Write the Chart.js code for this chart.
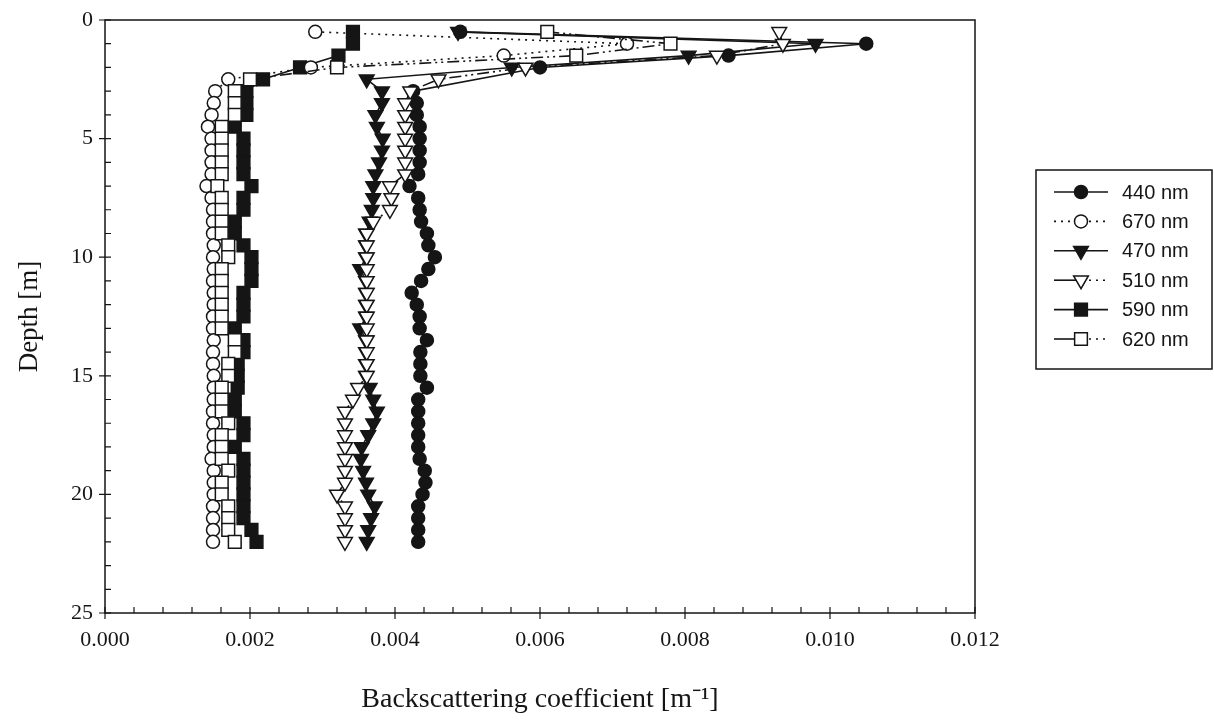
<!DOCTYPE html>
<html><head><meta charset="utf-8">
<style>html,body{margin:0;padding:0;background:#fff;} #wrap{width:1214px;height:726px;position:relative;}</style>
<script src="https://cdn.jsdelivr.net/npm/chart.js@4.4.0/dist/chart.umd.min.js"></script>
</head><body><div id="wrap"><canvas id="c" width="1214" height="726"></canvas></div>
<script>
const depths = [0.5,1,1.5,2,2.5,3,3.5,4,4.5,5,5.5,6,6.5,7,7.5,8,8.5,9,9.5,10,10.5,11,11.5,12,12.5,13,13.5,14,14.5,15,15.5,16,16.5,17,17.5,18,18.5,19,19.5,20,20.5,21,21.5,22];
const labels = ['440 nm','670 nm','470 nm','510 nm','590 nm','620 nm'];
const bb440 = [0.0049,0.0105,0.0086,0.0060,null,0.00425,0.0043,0.0043,0.00434,0.00434,0.00434,0.00434,0.00432,0.0042,0.00432,0.00434,0.00436,0.00444,0.00446,0.00455,0.00446,0.00436,0.00423,0.0043,0.00434,0.00434,0.00444,0.00435,0.00435,0.00435,0.00444,0.00432,0.00432,0.00432,0.00432,0.00432,0.00434,0.00441,0.00442,0.00438,0.00432,0.00432,0.00432,0.00432];
const bb670 = [0.0029,0.0072,0.0055,0.00284,0.0017,0.00152,0.0015,0.00147,0.00142,0.00147,0.00147,0.00147,0.00147,0.0014,0.00147,0.00149,0.00149,0.00149,0.0015,0.00149,0.0015,0.00149,0.0015,0.0015,0.00149,0.00149,0.0015,0.00149,0.00149,0.0015,0.0015,0.0015,0.00149,0.00149,0.0015,0.0015,0.00147,0.0015,0.0015,0.0015,0.00149,0.00149,0.00149,0.00149];
const bb470 = [0.00487,0.0098,0.00805,0.00561,0.00361,0.00382,0.00382,0.00373,0.00375,0.00383,0.00382,0.00378,0.00373,0.0037,0.0037,0.00368,0.00365,0.0036,0.0036,0.0036,0.00352,0.0036,0.0036,0.0036,0.0036,0.00352,0.0036,0.0036,0.0036,0.0036,0.00365,0.0037,0.00375,0.0037,0.00363,0.00354,0.00353,0.00356,0.0036,0.00363,0.00372,0.00367,0.00363,0.00361];
const bb510 = [0.0093,0.00935,0.00844,0.0058,0.0046,0.00421,0.00414,0.00414,0.00414,0.00414,0.00414,0.00414,0.00414,0.00393,0.00395,0.00393,0.0037,0.00361,0.00361,0.00361,0.00361,0.00361,0.00361,0.00361,0.00361,0.00361,0.00361,0.00361,0.00361,0.00361,0.00349,0.00342,0.00331,0.00331,0.00331,0.00331,0.00331,0.00331,0.00331,0.0032,0.00331,0.00331,0.00331,0.00331];
const bb590 = [0.00342,0.00342,0.00322,0.00269,0.00218,0.00195,0.00195,0.00195,0.00179,0.00191,0.00191,0.00191,0.00191,0.00202,0.00191,0.00191,0.00179,0.00179,0.00191,0.00202,0.00202,0.00202,0.00191,0.00191,0.00191,0.00179,0.00191,0.00191,0.00183,0.00183,0.00183,0.00179,0.00179,0.00191,0.00191,0.00179,0.00191,0.00191,0.00191,0.00191,0.00191,0.00191,0.00202,0.00209];
const bb620 = [0.0061,0.0078,0.0065,0.0032,0.0020,0.00179,0.00179,0.00179,0.00161,0.00161,0.00161,0.00161,0.00161,0.00155,0.00161,0.00161,0.00161,0.00161,0.0017,0.0017,0.00161,0.00161,0.00161,0.00161,0.00161,0.00161,0.00179,0.00179,0.0017,0.0017,0.00161,0.00161,0.00161,0.0017,0.00161,0.00161,0.00161,0.0017,0.00161,0.00161,0.0017,0.0017,0.0017,0.00179];
const xTickValues = [0.000,0.002,0.004,0.006,0.008,0.010,0.012];
const yTickValues = [0,5,10,15,20,25];

const INK = '#151515';
function pts(vals){ const out=[]; depths.forEach((d,i)=>{ if(vals[i]!==null) out.push({x:vals[i], y:d}); }); return out; }

const styles = [
  {data:bb440, shape:'circle', filled:true, r:6.5, dash:[], legendDash:'solid', order:5},
  {data:bb670, shape:'circle', filled:false, r:6.5, dash:[2,5], legendDash:'dot', order:3},
  {data:bb470, shape:'triangle', filled:true, r:8.5, dash:[], legendDash:'solid', order:4},
  {data:bb510, shape:'triangle', filled:false, r:8.5, dash:[12,4,2,4,2,4], legendDash:'mixed', order:1},
  {data:bb590, shape:'rect', filled:true, r:9, dash:[], legendDash:'solid', order:6},
  {data:bb620, shape:'rect', filled:false, r:9, dash:[12,4,2,4,2,4], legendDash:'mixed', order:2}
];

const datasets = styles.map((s,i)=>({
  label: labels[i],
  data: pts(s.data),
  showLine: true,
  borderColor: INK,
  borderWidth: 1.6,
  borderDash: s.dash,
  pointStyle: s.shape,
  pointRotation: s.shape==='triangle'?180:0,
  pointRadius: s.r,
  pointBorderWidth: 1.5,
  pointBorderColor: INK,
  pointBackgroundColor: s.filled?INK:'#ffffff',
  order: s.order
}));

function marker(ctx, s, x, y){
  ctx.save();
  ctx.lineWidth = 1.5; ctx.strokeStyle = INK; ctx.fillStyle = s.filled?INK:'#fff';
  ctx.setLineDash([]);
  ctx.beginPath();
  if (s.shape==='circle'){ ctx.arc(x,y,s.r,0,Math.PI*2); }
  else if (s.shape==='rect'){ const h=s.r*Math.SQRT1_2; ctx.rect(x-h,y-h,2*h,2*h); }
  else { const r=s.r; ctx.moveTo(x, y+r); ctx.lineTo(x - r*Math.sin(Math.PI/3), y - r/2); ctx.lineTo(x + r*Math.sin(Math.PI/3), y - r/2); ctx.closePath(); }
  ctx.fill(); ctx.stroke(); ctx.restore();
}

const framePlugin = {
  id:'frame',
  beforeDatasetsDraw(chart){
    const {ctx, chartArea:a, scales:{x, y}} = chart;
    ctx.save();
    ctx.strokeStyle = INK; ctx.lineWidth = 1.5; ctx.setLineDash([]);
    ctx.strokeRect(a.left, a.top, a.right-a.left, a.bottom-a.top);
    ctx.lineWidth = 1.2;
    ctx.beginPath();
    for (let k=0;k<=30;k++){
      const v = k*0.0004; const px = x.getPixelForValue(v);
      if (k%5===0){ ctx.moveTo(px, a.bottom-6); ctx.lineTo(px, a.bottom+6); }
      else { ctx.moveTo(px, a.bottom); ctx.lineTo(px, a.bottom-6); }
    }
    for (let k=0;k<=25;k++){
      const py = y.getPixelForValue(k);
      if (k%5===0){ ctx.moveTo(a.left-6, py); ctx.lineTo(a.left+6, py); }
      else { ctx.moveTo(a.left, py); ctx.lineTo(a.left+6, py); }
    }
    ctx.stroke();
    ctx.restore();
  }
};

const legendPlugin = {
  id:'boxLegend',
  afterDraw(chart){
    const ctx = chart.ctx;
    const bx=1036, by=170, bw=176, bh=199;
    ctx.save();
    ctx.strokeStyle = INK; ctx.lineWidth = 1.5; ctx.setLineDash([]);
    ctx.strokeRect(bx, by, bw, bh);
    ctx.font = '20px "Liberation Sans", Arial, sans-serif';
    ctx.fillStyle = INK; ctx.textBaseline = 'middle'; ctx.textAlign = 'left';
    chart.data.datasets.forEach((ds,i)=>{
      const s = styles[i];
      const yy = 192 + i*29.4;
      const x0=1054, x1=1108, xm=1081;
      ctx.lineWidth = 1.6; ctx.strokeStyle = INK;
      if (s.legendDash==='solid'){ ctx.setLineDash([]); ctx.beginPath(); ctx.moveTo(x0,yy); ctx.lineTo(x1,yy); ctx.stroke(); }
      else if (s.legendDash==='dot'){ ctx.setLineDash([2,5]); ctx.beginPath(); ctx.moveTo(x0,yy); ctx.lineTo(x1,yy); ctx.stroke(); }
      else { ctx.setLineDash([]); ctx.beginPath(); ctx.moveTo(x0,yy); ctx.lineTo(xm,yy); ctx.stroke(); ctx.setLineDash([2,5]); ctx.beginPath(); ctx.moveTo(xm+8,yy); ctx.lineTo(x1,yy); ctx.stroke(); }
      ctx.setLineDash([]);
      marker(ctx, s, xm, yy);
      ctx.fillStyle = INK;
      ctx.fillText(ds.label, 1122, yy+1);
    });
    ctx.restore();
  }
};

const serif = '"Liberation Serif", "Times New Roman", serif';
new Chart(document.getElementById('c'), {
  type:'scatter',
  data:{datasets},
  options:{
    responsive:false, animation:false, maintainAspectRatio:false,
    layout:{padding:{left:0,right:239,top:20,bottom:0}},
    plugins:{legend:{display:false}, tooltip:{enabled:false}},
    scales:{
      x:{type:'linear', min:0, max:0.012,
        grid:{display:false, drawTicks:false}, border:{display:false},
        afterBuildTicks:s=>{ s.ticks = xTickValues.map(v=>({value:v})); },
        ticks:{padding:14, color:INK, autoSkip:false, maxRotation:0, font:{family:serif, size:22}, callback:v=>Number(v).toFixed(3)},
        title:{display:true, text:'Backscattering coefficient [m⁻¹]', color:INK, font:{family:serif, size:28}, padding:{top:0,bottom:10}},
        afterFit:s=>{ s.height = 113; s.paddingLeft = 0; s.paddingRight = 0; }
      },
      y:{type:'linear', reverse:true, min:0, max:25,
        grid:{display:false, drawTicks:false}, border:{display:false},
        afterBuildTicks:s=>{ s.ticks = yTickValues.map(v=>({value:v})); },
        ticks:{padding:12, color:INK, autoSkip:false, font:{family:serif, size:22}, callback:v=>String(v)},
        title:{display:true, text:'Depth [m]', color:INK, font:{family:serif, size:27}, padding:{top:14,bottom:0}},
        afterFit:s=>{ s.width = 105; s.paddingTop = 0; s.paddingBottom = 0; }
      }
    }
  },
  plugins:[framePlugin, legendPlugin]
});
</script></body></html>
